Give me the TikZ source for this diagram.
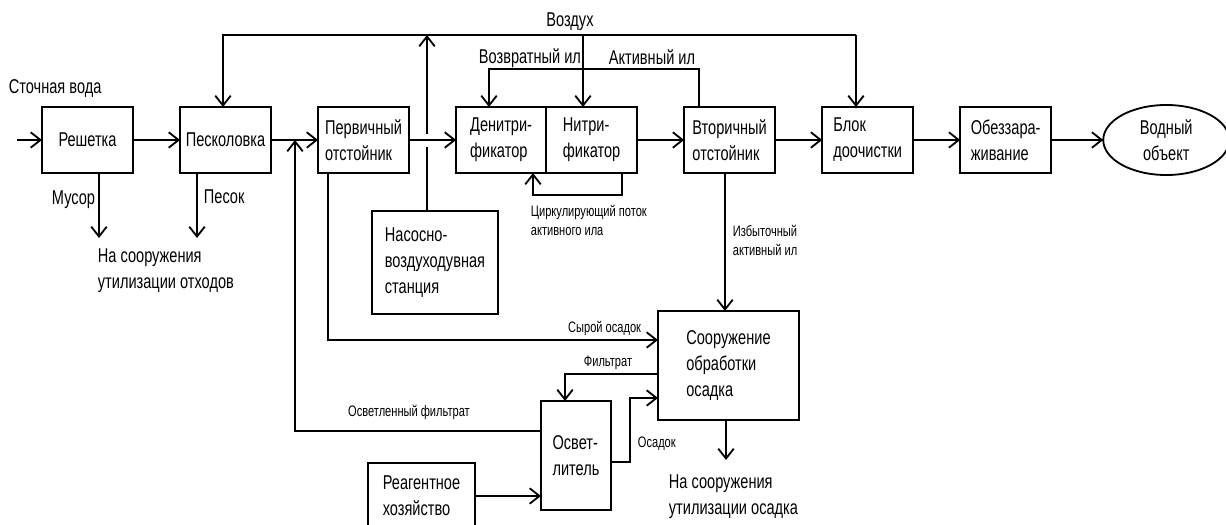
\documentclass[tikz,border=0pt]{standalone}
\usepackage{fontspec}
\setmainfont{Liberation Sans}[FakeStretch=0.73]
\usetikzlibrary{positioning,shapes.geometric,arrows.meta}

\newcommand{\boxfont}{\fontsize{14.2}{18.5}\selectfont}
\newcommand{\notefont}{\fontsize{10.8}{13.5}\selectfont}

\tikzset{
  blockbox/.style={draw, minimum width=2.275cm, minimum height=1.65cm,
    inner sep=0pt, outer sep=0pt, align=left, font=\boxfont},
  stream/.style={-{Straight Barb[length=7pt,width=11pt]}},
  lbl/.style={inner sep=0pt, align=left, font=\boxfont},
  note/.style={inner sep=0pt, align=left, font=\notefont}
}

\begin{document}
\begin{tikzpicture}[x=0.025cm, y=-0.025cm, line width=1.3pt,
    node distance=1.175cm]
  \useasboundingbox (0,0) rectangle (1226,525);
  \clip (0,0) rectangle (1226,525);

  % main line
  \node[blockbox] (reshetka) at (87.5,140) {Решетка};
  \node[blockbox, right=of reshetka] (peskolovka) {Песколовка};
  \node[blockbox, right=of peskolovka] (pervich) {Первичный\\отстойник};
  \node[blockbox, minimum width=2.25cm, right=of pervich] (denitri) {Денитри-\\фикатор};
  \node[blockbox, right=0cm of denitri] (nitri) {Нитри-\\фикатор};
  \node[blockbox, right=of nitri] (vtorich) {Вторичный\\отстойник};
  \node[blockbox, right=of vtorich] (blok) {Блок\\доочистки};
  \node[blockbox, right=of blok] (obezz) {Обеззара-\\живание};
  \node[draw, ellipse, inner sep=0pt, outer sep=0pt, minimum width=3.15cm,
    minimum height=1.75cm, right=1.3cm of obezz, align=center,
    font=\boxfont] (vodny) {Водный\\объект};

  % other units
  \node[blockbox, minimum width=3.15cm, minimum height=2.575cm] (nasos)
    at (435,262.5) {Насосно-\\воздуходувная\\станция};
  \node[blockbox, minimum width=3.525cm, minimum height=2.725cm] (osadok)
    at (728.5,365.5) {Сооружение\\обработки\\осадка};
  \node[blockbox, minimum width=1.75cm, minimum height=2.725cm] (osvet)
    at (576,455.5) {Освет-\\литель};
  \node[blockbox, minimum width=2.675cm] (reagent)
    at (421.5,496) {Реагентное\\хозяйство};

  % labels
  \node[lbl, anchor=west] (stochn) at (8,89) {Сточная вода};
  \node[lbl, anchor=east] (musor) at (96,200) {Мусор};
  \node[lbl, anchor=west] (pesok) at (203,197) {Песок};
  \node[lbl, anchor=west] (othody) at (97,271) {На сооружения\\утилизации отходов};
  \node[lbl] (vozduh) at (570,22) {Воздух};
  \node[lbl] (vozvrat) at (530,58) {Возвратный ил};
  \node[lbl] (aktiv) at (652,57) {Активный ил};
  \node[note, anchor=west] (circ) at (530,220) {Циркулирующий поток\\активного ила};
  \node[note, anchor=west] (izbyt) at (732,240) {Избыточный\\активный ил};
  \node[note, anchor=east] (syrojlbl) at (642,328) {Сырой осадок};
  \node[note] (filtrlbl) at (608,363) {Фильтрат};
  \node[note, anchor=west] (osadoklbl) at (637,444) {Осадок};
  \node[note] (osvFlbl) at (409,412) {Осветленный фильтрат};
  \node[lbl, anchor=west] (utilos) at (668,497) {На сооружения\\утилизации осадка};

  % turning points
  \coordinate (inlet) at (17,140);
  \coordinate (musorEnd) at (99,238);
  \coordinate (pesokEnd) at (197,238);
  \coordinate (airL) at (223,35);
  \coordinate (airR) at (856,35);
  \coordinate (airN) at (583,35);
  \coordinate (airP) at (427,35);
  \coordinate (gapLo) at (427,147);
  \coordinate (gapHi) at (427,134);
  \coordinate (ilR) at (699,69);
  \coordinate (ilL) at (489,69);
  \coordinate (circR) at (622,195);
  \coordinate (circL) at (533,195);
  \coordinate (izb) at (725,0);
  \coordinate (syroj) at (328,340);
  \coordinate (filtr) at (565,374);
  \coordinate (osA) at (630,462);
  \coordinate (osB) at (630,398);
  \coordinate (osvF) at (295,431);
  \coordinate (util) at (726,460);

  % main flow
  \draw[stream] (inlet) -- (reshetka);
  \draw[stream] (reshetka) -- (peskolovka);
  \draw[stream] (peskolovka) -- (pervich);
  \draw[stream] (pervich) -- (denitri);
  \draw[stream] (nitri) -- (vtorich);
  \draw[stream] (vtorich) -- (blok);
  \draw[stream] (blok) -- (obezz);
  \draw[stream] (obezz) -- (vodny);

  % waste
  \draw[stream] (reshetka.south -| musorEnd) -- (musorEnd);
  \draw[stream] (peskolovka.south -| pesokEnd) -- (pesokEnd);

  % air
  \draw (nasos.north -| airP) -- (gapLo);
  \draw[stream] (gapHi) -- (airP);
  \draw[stream] (airR) -- (airL) -- (airL |- peskolovka.north);
  \draw[stream] (airR) -- (airR |- blok.north);
  \draw[stream] (airN) -- (airN |- nitri.north);

  % sludge
  \draw[stream] (vtorich.north -| ilR) -- (ilR) -- (ilL) -- (ilL |- denitri.north);
  \draw[stream] (nitri.south -| circR) -- (circR) -- (circL) -- (circL |- denitri.south);
  \draw[stream] (vtorich.south -| izb) -- (osadok.north -| izb);
  \draw[stream] (pervich.south -| syroj) -- (syroj) -- (syroj -| osadok.west);
  \draw[stream] (osadok.west |- filtr) -- (filtr) -- (filtr |- osvet.north);
  \draw[stream] (osvet.east |- osA) -- (osA) -- (osB) -- (osB -| osadok.west);
  \draw[stream] (osvet.west |- osvF) -- (osvF) -- (osvF |- peskolovka.east);
  \draw[stream] (reagent.east) -- (reagent.east -| osvet.west);
  \draw[stream] (osadok.south -| util) -- (util);
\end{tikzpicture}
\end{document}
